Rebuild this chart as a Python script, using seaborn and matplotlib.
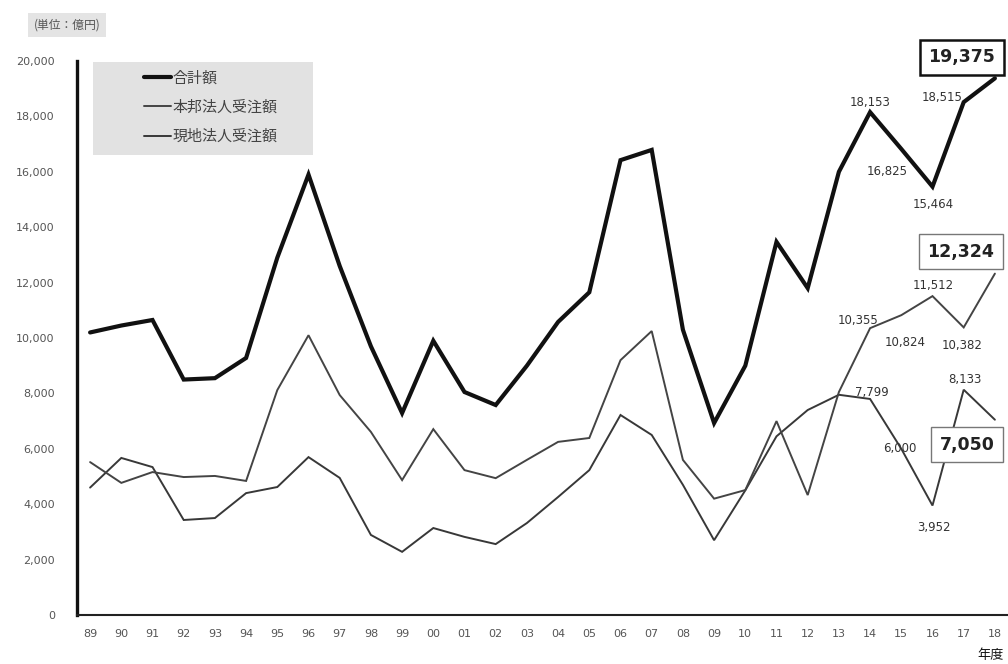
import matplotlib
matplotlib.use("Agg")
import matplotlib.pyplot as plt
import seaborn as sns
import pandas as pd
from matplotlib.lines import Line2D
from matplotlib.patches import Rectangle

sns.set_theme(style="white")
plt.rcParams["font.family"] = ["Noto Sans CJK JP", "DejaVu Sans"]

# Fiscal years (two-digit labels)
years = ["89", "90", "91", "92", "93", "94", "95", "96", "97", "98",
         "99", "00", "01", "02", "03", "04", "05", "06", "07", "08",
         "09", "10", "11", "12", "13", "14", "15", "16", "17", "18"]

# Orders received (unit: 100 million yen)
total = [10200, 10450, 10650, 8500, 8550, 9280, 12900, 15900, 12600, 9700,
         7290, 9900, 8050, 7580, 9000, 10580, 11650, 16420, 16790, 10300,
         6930, 9000, 13470, 11800, 16000, 18153, 16825, 15464, 18515, 19375]
domestic = [5520, 4770, 5160, 4980, 5020, 4840, 8120, 10100, 7940, 6610,
            4870, 6710, 5230, 4940, 5600, 6250, 6390, 9200, 10250, 5600,
            4200, 4510, 7000, 4330, 8050, 10355, 10824, 11512, 10382, 12324]
local = [4600, 5670, 5340, 3430, 3500, 4400, 4620, 5700, 4950, 2890,
         2280, 3140, 2820, 2560, 3320, 4260, 5230, 7220, 6500, 4700,
         2700, 4500, 6450, 7400, 7950, 7799, 6000, 3952, 8133, 7050]

series_names = ["合計額", "本邦法人受注額", "現地法人受注額"]

df = pd.DataFrame({
    "idx": list(range(len(years))) * 3,
    "value": total + domestic + local,
    "series": [series_names[0]] * len(years) + [series_names[1]] * len(years)
              + [series_names[2]] * len(years),
})

W, H = 1008, 664
fig = plt.figure(figsize=(W / 100, H / 100), dpi=100)
ax = fig.add_axes([77 / W, 49 / H, (W - 77) / W, 554 / H])

styles = {
    series_names[0]: dict(color="#111111", lw=3.0),
    series_names[1]: dict(color="#444444", lw=1.4),
    series_names[2]: dict(color="#383838", lw=1.4),
}
for name in series_names[::-1]:
    sub = df[df["series"] == name]
    sns.lineplot(data=sub, x="idx", y="value", ax=ax, legend=False,
                 color=styles[name]["color"], linewidth=styles[name]["lw"],
                 solid_joinstyle="miter")

ax.set_xlim(-0.42, 29.42)
ax.set_ylim(0, 20000)
ax.set_xticks(range(len(years)))
ax.set_xticklabels(years)
ax.set_yticks(range(0, 20001, 2000))
ax.set_yticklabels([f"{v:,}" for v in range(0, 20001, 2000)])
ax.tick_params(axis="both", direction="in", length=3, width=1,
               labelsize=8, labelcolor="#555555", color="#222222")
ax.tick_params(axis="y", pad=16)
ax.tick_params(axis="x", pad=10)
for lbl in ax.get_xticklabels() + ax.get_yticklabels():
    lbl.set_family("DejaVu Sans")
ax.set_xlabel("")
ax.set_ylabel("")
for s in ["top", "right"]:
    ax.spines[s].set_visible(False)
ax.spines["left"].set_linewidth(2.4)
ax.spines["left"].set_color("#111111")
ax.spines["bottom"].set_linewidth(1.5)
ax.spines["bottom"].set_color("#222222")

# Legend drawn over a grey panel
ax.add_patch(Rectangle((93 / W, 1 - 155 / H), 220 / W, 93 / H,
                       transform=fig.transFigure, fc="#e2e2e2", ec="none",
                       zorder=0.5, clip_on=False))
handles = [Line2D([0], [0], color=styles[n]["color"],
                  lw=3.0 if n == series_names[0] else 1.4) for n in series_names]
leg = ax.legend(handles, series_names, loc="upper left",
                bbox_to_anchor=(144 / W, 1 - 71 / H),
                bbox_transform=fig.transFigure, frameon=False,
                fontsize=10.8, handlelength=1.8, handletextpad=0.1,
                labelspacing=1.0, borderpad=0.0, borderaxespad=0.0)
leg.set_zorder(5)
for t in leg.get_texts():
    t.set_color("#444444")

# Unit note and axis caption
fig.text(67 / W, 1 - 25 / H, "(単位：億円)", fontsize=8.5, color="#555555",
         va="center", ha="center",
         bbox=dict(boxstyle="square,pad=0.45", fc="#e4e4e4", ec="none"))
fig.text(1 - 4 / W, 1 - 655 / H, "年度", fontsize=9.5, color="#111111",
         va="center", ha="right")

# Value labels on the recent years: (series values, index, dx, dy)
lab_font = dict(fontsize=8.5, color="#333333", family="DejaVu Sans",
                ha="center", va="center")
plain = [
    (total, 25, 0, 10), (total, 26, -14, -23), (total, 27, 1, -18),
    (total, 28, -22, 5),
    (domestic, 25, -12, 8), (domestic, 26, 4, -27), (domestic, 27, 1, 11),
    (domestic, 28, -2, -18),
    (local, 25, 2, 6), (local, 26, -1, 0), (local, 27, 1, -22),
    (local, 28, 1, 10),
]
for vals, i, dx, dy in plain:
    ax.annotate(f"{vals[i]:,}", (i, vals[i]), xytext=(dx, dy),
                textcoords="offset pixels", **lab_font)

boxed = [
    (total, 29, -33, 21, 1.8, "#111111"),
    (domestic, 29, -34, 22, 1.0, "#777777"),
    (local, 29, -28, -25, 1.0, "#777777"),
]
for vals, i, dx, dy, bw, bc in boxed:
    ax.annotate(f"{vals[i]:,}", (i, vals[i]), xytext=(dx, dy),
                textcoords="offset pixels", fontsize=12.5, fontweight="bold",
                color="#222222", family="DejaVu Sans", ha="center", va="center",
                bbox=dict(boxstyle="square,pad=0.5", fc="white", ec=bc, lw=bw),
                annotation_clip=False)

fig.savefig("out.png", dpi=100, facecolor="white")
